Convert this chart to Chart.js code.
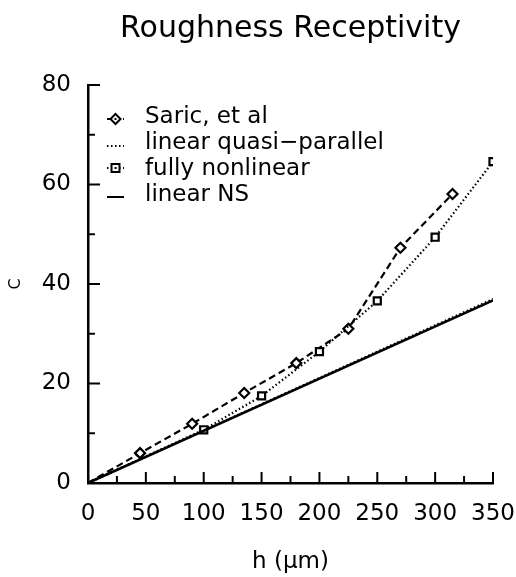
<!DOCTYPE html>
<html>
<head>
<meta charset="utf-8">
<script src="https://cdn.jsdelivr.net/npm/chart.js@4.4.0/dist/chart.umd.min.js"></script>
<style>
  body { margin: 0; background: #fff; }
  canvas { display: block; }
</style>
</head>
<body>
<canvas id="myChart" width="516" height="577"></canvas>
<script>
// values
const saricH = [0, 45, 90, 135, 180, 225, 270, 315];
const saricC = [0, 6.0, 11.9, 18.1, 24.1, 31.0, 47.3, 58.1];

const nonlinH = [0, 100, 150, 200, 250, 300, 350];
const nonlinC = [0, 10.7, 17.5, 26.4, 36.6, 49.4, 64.6];

const linH = [0, 350];
const quasiC = [0, 37.0];
const nsC = [0, 36.7];

const xTicks = [0, 50, 100, 150, 200, 250, 300, 350];
const yTicks = [0, 20, 40, 60, 80];

const legendNames = ['Saric, et al', 'linear quasi\u2212parallel', 'fully nonlinear', 'linear NS'];

const FONT = 'DejaVu Sans';

function toPoints(xs, ys) {
    return xs.map((x, i) => ({ x: x, y: ys[i] }));
}

// inward tick marks + legend inside the plot
const extras = {
    id: 'extras',
    afterDraw(chart) {
        const ctx = chart.ctx;
        const xs = chart.scales.x;
        const ys = chart.scales.y;
        const area = chart.chartArea;
        ctx.save();
        ctx.strokeStyle = '#000';
        ctx.lineWidth = 2;
        for (let v = 25; v <= 350; v += 25) {
            const px = xs.getPixelForValue(v);
            const len = v % 50 === 0 ? 11 : 7;
            ctx.beginPath();
            ctx.moveTo(px, area.bottom);
            ctx.lineTo(px, area.bottom - len);
            ctx.stroke();
        }
        for (let v = 10; v <= 80; v += 10) {
            const py = ys.getPixelForValue(v);
            const len = v % 20 === 0 ? 12 : 7;
            ctx.beginPath();
            ctx.moveTo(area.left, py);
            ctx.lineTo(area.left + len, py);
            ctx.stroke();
        }

        // legend
        const lx = area.left + 19;
        const tx = area.left + 57;
        const rows = [
            { base: 123, sy: 119, dash: [5, 3], marker: 'diamond' },
            { base: 149, sy: 146, dash: [1.5, 2.5], marker: null },
            { base: 175, sy: 168, dash: [1.5, 2.5], marker: 'square' },
            { base: 201, sy: 197, dash: [], marker: null }
        ];
        ctx.font = '23px "' + FONT + '"';
        ctx.fillStyle = '#000';
        ctx.textBaseline = 'alphabetic';
        ctx.textAlign = 'left';
        rows.forEach((r, i) => {
            ctx.setLineDash(r.dash);
            ctx.lineWidth = 2;
            ctx.beginPath();
            ctx.moveTo(lx, r.sy);
            ctx.lineTo(lx + 17, r.sy);
            ctx.stroke();
            ctx.setLineDash([]);
            const cx = lx + 8.5;
            if (r.marker === 'diamond') {
                ctx.beginPath();
                ctx.moveTo(cx, r.sy - 5);
                ctx.lineTo(cx + 5, r.sy);
                ctx.lineTo(cx, r.sy + 5);
                ctx.lineTo(cx - 5, r.sy);
                ctx.closePath();
                ctx.fillStyle = '#fff';
                ctx.fill();
                ctx.stroke();
                ctx.fillStyle = '#000';
                ctx.fillRect(cx - 1, r.sy - 1, 2, 2);
            } else if (r.marker === 'square') {
                ctx.fillStyle = '#fff';
                ctx.fillRect(cx - 4, r.sy - 4, 8, 8);
                ctx.strokeRect(cx - 4, r.sy - 4, 8, 8);
                ctx.fillStyle = '#000';
                ctx.fillRect(cx - 1, r.sy - 1, 2, 2);
            }
            ctx.fillStyle = '#000';
            ctx.fillText(legendNames[i], tx, r.base);
        });
        ctx.restore();
    }
};

const markerRadius = (c) => (c.dataIndex === 0 ? 0 : 5);

const config = {
    type: 'line',
    data: {
        datasets: [
            {
                label: legendNames[3],
                data: toPoints(linH, nsC),
                borderColor: '#000',
                borderWidth: 2.6,
                pointRadius: 0
            },
            {
                label: legendNames[1],
                data: toPoints(linH, quasiC),
                borderColor: '#000',
                borderWidth: 2,
                borderDash: [1.5, 2.5],
                pointRadius: 0
            },
            {
                label: legendNames[2],
                data: toPoints(nonlinH, nonlinC),
                borderColor: '#000',
                borderWidth: 2.2,
                borderDash: [1.5, 2.5],
                pointStyle: 'rect',
                pointRadius: markerRadius,
                pointBorderWidth: 2.2,
                pointBorderColor: '#000',
                pointBackgroundColor: '#fff'
            },
            {
                label: legendNames[0],
                data: toPoints(saricH, saricC),
                borderColor: '#000',
                borderWidth: 2.2,
                borderDash: [7, 4],
                pointStyle: 'rectRot',
                pointRadius: markerRadius,
                pointBorderWidth: 2.2,
                pointBorderColor: '#000',
                pointBackgroundColor: '#fff'
            }
        ]
    },
    options: {
        responsive: false,
        animation: false,
        devicePixelRatio: 1,
        elements: { line: { tension: 0 } },
        layout: { padding: { left: 0, right: 0, top: 0, bottom: 0 } },
        plugins: {
            legend: { display: false },
            tooltip: { enabled: false },
            title: {
                display: true,
                text: 'Roughness Receptivity',
                fullSize: false,
                color: '#000',
                font: { family: FONT, size: 30, weight: 'normal' },
                padding: { top: 11, bottom: 38 }
            }
        },
        scales: {
            x: {
                type: 'linear',
                min: 0,
                max: 350,
                afterBuildTicks: (s) => { s.ticks = xTicks.map(v => ({ value: v })); },
                afterFit: (s) => { s.height = 94; s.paddingRight = 23; },
                ticks: {
                    color: '#000',
                    font: { family: FONT, size: 23 },
                    padding: 17,
                    maxRotation: 0,
                    autoSkip: false
                },
                grid: { display: false, drawTicks: false },
                border: { display: true, color: '#000', width: 2.5 },
                title: {
                    display: true,
                    text: 'h (\u03bcm)',
                    color: '#000',
                    font: { family: FONT, size: 23 },
                    padding: { top: 0, bottom: 1 }
                }
            },
            y: {
                min: 0,
                max: 80,
                afterBuildTicks: (s) => { s.ticks = yTicks.map(v => ({ value: v })); },
                afterFit: (s) => { s.width = 88; },
                ticks: {
                    color: '#000',
                    font: { family: FONT, size: 23 },
                    padding: 17
                },
                grid: { display: false, drawTicks: false },
                border: { display: true, color: '#000', width: 2.5 },
                title: {
                    display: true,
                    text: 'C',
                    color: '#000',
                    font: { family: FONT, size: 16 },
                    padding: { top: 6, bottom: 0 }
                }
            }
        }
    },
    plugins: [extras]
};

const myChart = new Chart(document.getElementById('myChart'), config);
</script>
</body>
</html>
